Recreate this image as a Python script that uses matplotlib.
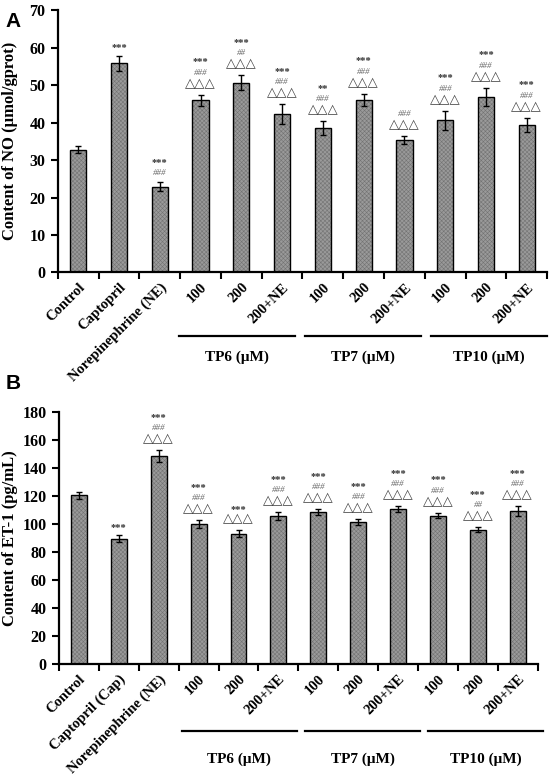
import numpy as np
import matplotlib
matplotlib.use('Agg')
import matplotlib.pyplot as plt
from matplotlib.transforms import blended_transform_factory, ScaledTranslation

plt.rcParams['font.family'] = ['Liberation Serif', 'DejaVu Serif']
plt.rcParams['font.weight'] = 'bold'
plt.rcParams['hatch.linewidth'] = 0.4

# data
labels_a = ['Control', 'Captopril', 'Norepinephrine (NE)',
            '100', '200', '200+NE', '100', '200', '200+NE', '100', '200', '200+NE']
labels_b = ['Control', 'Captopril (Cap)', 'Norepinephrine (NE)',
            '100', '200', '200+NE', '100', '200', '200+NE', '100', '200', '200+NE']
groups = ['TP6 (\u03bcM)', 'TP7 (\u03bcM)', 'TP10 (\u03bcM)']

TRI = '\u25b3\u25b3\u25b3'

no_vals = [32.8, 55.8, 22.9, 45.9, 50.7, 42.2, 38.5, 46.1, 35.3, 40.6, 46.9, 39.4]
no_err = [0.9, 2.0, 1.2, 1.5, 1.9, 2.7, 1.9, 1.6, 1.1, 2.5, 2.4, 1.9]
no_stars = ['', '***', '***', '***', '***', '***', '**', '***', '', '***', '***', '***']
no_hash = ['', '', '###', '###', '##', '###', '###', '###', '###', '###', '###', '###']
no_tri = ['', '', '', TRI, TRI, TRI, TRI, TRI, TRI, TRI, TRI, TRI]

et_vals = [120.5, 89.5, 148.5, 99.8, 93.0, 105.5, 108.5, 101.5, 110.5, 106.0, 96.0, 109.0]
et_err = [2.5, 2.5, 4.0, 3.0, 2.5, 3.0, 2.0, 2.0, 2.0, 2.0, 1.5, 3.5]
et_stars = ['', '***', '***', '***', '***', '***', '***', '***', '***', '***', '***', '***']
et_hash = ['', '', '###', '###', '', '###', '###', '###', '###', '###', '##', '###']
et_tri = ['', '', TRI, TRI, TRI, TRI, TRI, TRI, TRI, TRI, TRI, TRI]


def panel(ax, vals, errs, labels, stars, hashes, tris, ymax, ystep, ylabel,
          grp_start, grp_len, grp_step, line_off, text_off):
    x = np.arange(len(vals))
    ax.bar(x, vals, width=0.4, color='#9a9a9a', edgecolor='#737373',
           hatch='xxxxxxxx', linewidth=0, zorder=2)
    ax.bar(x, vals, width=0.4, fill=False, edgecolor='black', linewidth=1.0, zorder=3)
    ax.errorbar(x, vals, yerr=errs, fmt='none', ecolor='black', elinewidth=1.0,
                capsize=2.5, capthick=1.0, zorder=4)
    ax.set_xlim(-0.5, len(vals) - 0.5)
    ax.set_ylim(0, ymax)
    ax.set_yticks(np.arange(0, ymax + 1, ystep))
    ax.set_xticks(np.arange(-0.5, len(vals), 1.0))
    ax.set_xticklabels([])
    ax.set_xticks(x, minor=True)
    ax.set_xticklabels(labels, minor=True, rotation=45, ha='right',
                       rotation_mode='anchor', fontsize=10.5, fontweight='bold')
    ax.tick_params(axis='x', which='minor', length=0, pad=6)
    ax.tick_params(axis='x', which='major', length=5, width=1.5, direction='out')
    ax.tick_params(axis='y', length=5, width=1.5, labelsize=11.5, pad=4)
    for s in ['top', 'right']:
        ax.spines[s].set_visible(False)
    for s in ['left', 'bottom']:
        ax.spines[s].set_linewidth(1.6)
    ax.set_ylabel(ylabel, fontsize=12, fontweight='bold', va='center')
    ax.yaxis.set_label_coords(0.019, 0.5,
                              transform=blended_transform_factory(fig.transFigure, ax.transAxes))

    # significance marks stacked above the error bars
    for i in x:
        top = vals[i] + errs[i]
        off = 3.5
        if tris[i]:
            ax.annotate(tris[i], (i, top), xytext=(0, off), textcoords='offset points',
                        ha='center', va='bottom', fontsize=9.5, color='#444444',
                        family='DejaVu Sans', fontweight='normal')
            off += 9.5
        if hashes[i]:
            ax.annotate(hashes[i], (i, top), xytext=(0, off), textcoords='offset points',
                        ha='center', va='bottom', fontsize=6.5, color='#666666',
                        style='italic', fontweight='normal')
            off += 8.5
        if stars[i]:
            ax.annotate(stars[i], (i, top), xytext=(0, off - 1), textcoords='offset points',
                        ha='center', va='bottom', fontsize=7.5, color='#333333',
                        fontweight='bold')

    # group underlines and labels below the axis
    tr = ax.get_xaxis_transform()
    shift = ScaledTranslation(0, -line_off / 100, fig.dpi_scale_trans)
    for g, name in enumerate(groups):
        x0 = grp_start + grp_step * g
        x1 = x0 + grp_len
        ax.add_line(plt.Line2D([x0, x1], [0, 0], color='black', linewidth=1.6,
                               transform=tr + shift, clip_on=False))
        ax.annotate(name, ((x0 + x1) / 2, 0), xycoords=tr, xytext=(0, -text_off * 0.72),
                    textcoords='offset points', ha='center', va='center',
                    fontsize=11, fontweight='bold')


fig = plt.figure(figsize=(5.51, 7.83), dpi=100)
ax1 = fig.add_axes([0.105, 0.652, 0.888, 0.335])
ax2 = fig.add_axes([0.107, 0.152, 0.869, 0.322])

panel(ax1, no_vals, no_err, labels_a, no_stars, no_hash, no_tri, 70, 10,
      'Content of NO (\u03bcmol/gprot)', 2.47, 2.84, 3.09, 64, 85)
panel(ax2, et_vals, et_err, labels_b, et_stars, et_hash, et_tri, 180, 20,
      'Content of ET-1 (pg/mL)', 2.58, 2.88, 3.09, 67, 95)

fig.text(0.01, 0.985, 'A', fontsize=15, fontweight='bold', family='Liberation Sans',
         va='top')
fig.text(0.01, 0.522, 'B', fontsize=15, fontweight='bold', family='Liberation Sans',
         va='top')

fig.savefig('out.png', dpi=100)
